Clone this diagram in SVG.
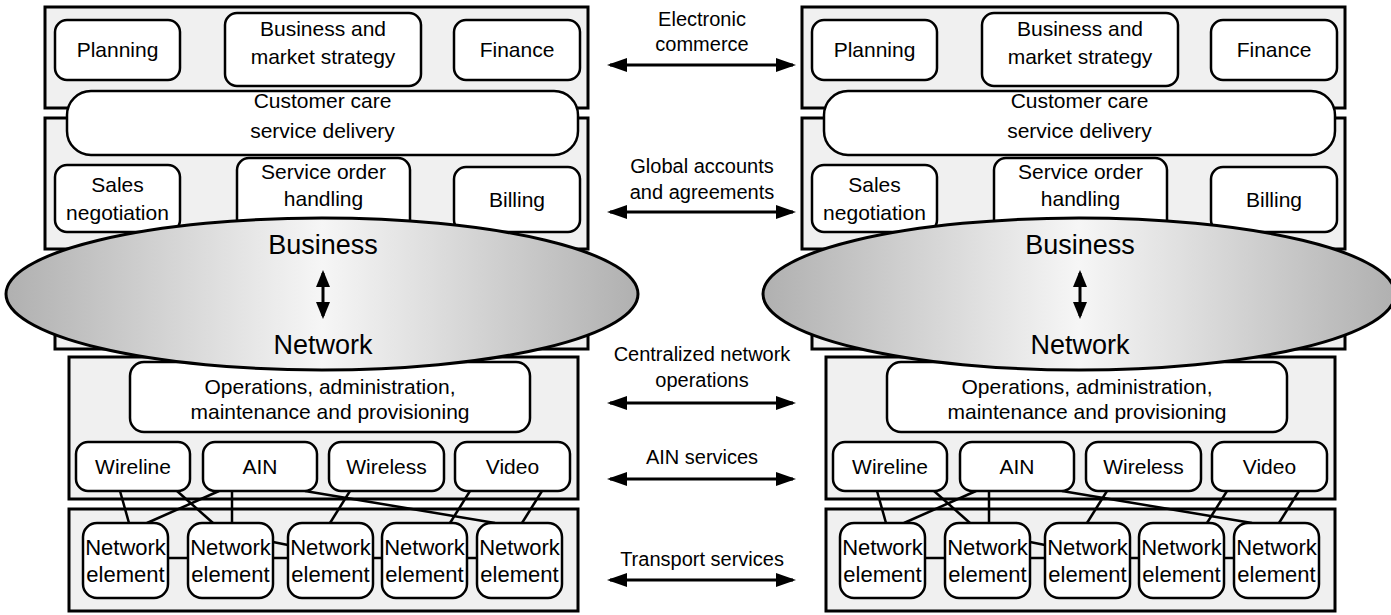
<svg xmlns="http://www.w3.org/2000/svg" width="1391" height="615" viewBox="0 0 1391 615">
<defs>
<linearGradient id="eg" x1="0" x2="1" y1="0" y2="0">
<stop offset="0" stop-color="#b0b0b0"/>
<stop offset="0.5" stop-color="#f6f6f6"/>
<stop offset="1" stop-color="#b0b0b0"/>
</linearGradient>
<marker id="ah" viewBox="0 0 20 14" refX="17" refY="7" markerWidth="20" markerHeight="14" markerUnits="userSpaceOnUse" orient="auto-start-reverse"><path d="M0,0 L20,7 L0,14 z" fill="#000"/></marker>
<marker id="ah2" viewBox="0 0 17 14" refX="14" refY="7" markerWidth="17" markerHeight="14" markerUnits="userSpaceOnUse" orient="auto-start-reverse"><path d="M0,0 L17,7 L0,14 z" fill="#000"/></marker>
<style>
.pn{fill:#f0f0f0;stroke:#000;stroke-width:3}
.bx{fill:#fff;stroke:#000;stroke-width:2.5}
.t{font-family:"Liberation Sans",Arial,sans-serif;font-size:21px;text-anchor:middle;fill:#000}
.ne{font-family:"Liberation Sans",Arial,sans-serif;font-size:22px;text-anchor:middle;fill:#000}
.big{font-family:"Liberation Sans",Arial,sans-serif;font-size:27px;text-anchor:middle;fill:#000}
.m{font-family:"Liberation Sans",Arial,sans-serif;font-size:20px;text-anchor:middle;fill:#000}
.cn{stroke:#000;stroke-width:2.5;fill:none}
.ar{stroke:#000;stroke-width:3;fill:none;marker-start:url(#ah);marker-end:url(#ah)}
.ar2{stroke:#000;stroke-width:3;fill:none;marker-start:url(#ah2);marker-end:url(#ah2)}
.el{fill:url(#eg);stroke:#000;stroke-width:3}
</style>
</defs>
<rect width="1391" height="615" fill="#fff"/>

<g id="left">
<g id="L-panel-business">
<rect class="pn" x="45" y="7" width="543" height="101"/>
<rect class="pn" x="45" y="118" width="543" height="131"/>
</g>
<g id="L-planning"><rect class="bx" x="55" y="20" width="125" height="60" rx="12"/><text class="t" x="117.5" y="57">Planning</text></g>
<g id="L-strategy"><rect class="bx" x="225" y="13" width="196" height="73" rx="12"/><text class="t" x="323" y="36">Business and</text><text class="t" x="323" y="64">market strategy</text></g>
<g id="L-finance"><rect class="bx" x="454" y="20" width="126" height="60" rx="12"/><text class="t" x="517" y="57">Finance</text></g>
<g id="L-customer"><rect class="bx" x="67" y="91" width="511" height="64" rx="24"/><text class="t" x="322.5" y="108">Customer care</text><text class="t" x="322.5" y="138">service delivery</text></g>
<g id="L-sales"><rect class="bx" x="55" y="165" width="125" height="67" rx="12"/><text class="t" x="117.5" y="192">Sales</text><text class="t" x="117.5" y="220">negotiation</text></g>
<g id="L-order"><rect class="bx" x="237" y="158" width="173" height="80" rx="12"/><text class="t" x="323.5" y="179">Service order</text><text class="t" x="323.5" y="206">handling</text></g>
<g id="L-billing"><rect class="bx" x="454" y="167" width="126" height="65" rx="12"/><text class="t" x="517" y="207">Billing</text></g>
<g id="L-panel-mid"><rect class="pn" x="55" y="258" width="533" height="91"/></g>
<g id="L-panel-network">
<rect class="pn" x="69" y="357" width="509" height="142"/>
<rect class="pn" x="69" y="509" width="509" height="102"/>
</g>
<g id="L-connectors">
<line class="cn" x1="120" y1="491" x2="129" y2="523"/>
<line class="cn" x1="177" y1="491" x2="213" y2="523"/>
<line class="cn" x1="219" y1="491" x2="147" y2="523"/>
<line class="cn" x1="232" y1="491" x2="232" y2="523"/>
<line class="cn" x1="305" y1="491" x2="495" y2="523"/>
<line class="cn" x1="350" y1="491" x2="330" y2="523"/>
<line class="cn" x1="470" y1="491" x2="450" y2="523"/>
<line class="cn" x1="542" y1="491" x2="522" y2="523"/>
<line class="cn" x1="168" y1="558" x2="188" y2="558"/>
<line class="cn" x1="273" y1="558" x2="288" y2="558"/>
<line class="cn" x1="273" y1="542" x2="288" y2="545"/>
<line class="cn" x1="373" y1="558" x2="382" y2="558"/>
<line class="cn" x1="467" y1="558" x2="477" y2="558"/>
</g>
<g id="L-oam"><rect class="bx" x="130" y="362" width="400" height="70" rx="14"/><text class="t" x="330" y="394">Operations, administration,</text><text class="t" x="330" y="419">maintenance and provisioning</text></g>
<g id="L-wireline"><rect class="bx" x="76" y="442" width="114" height="49" rx="12"/><text class="t" x="133" y="474">Wireline</text></g>
<g id="L-ain"><rect class="bx" x="203" y="442" width="114" height="49" rx="12"/><text class="t" x="260" y="474">AIN</text></g>
<g id="L-wireless"><rect class="bx" x="329" y="442" width="115" height="49" rx="12"/><text class="t" x="386.5" y="474">Wireless</text></g>
<g id="L-video"><rect class="bx" x="455" y="442" width="115" height="49" rx="12"/><text class="t" x="512.5" y="474">Video</text></g>
<g id="L-ne1"><rect class="bx" x="83" y="523" width="85" height="75" rx="14"/><text class="ne" x="125.5" y="555">Network</text><text class="ne" x="125.5" y="582">element</text></g>
<g id="L-ne2"><rect class="bx" x="188" y="523" width="85" height="75" rx="14"/><text class="ne" x="230.5" y="555">Network</text><text class="ne" x="230.5" y="582">element</text></g>
<g id="L-ne3"><rect class="bx" x="288" y="523" width="85" height="75" rx="14"/><text class="ne" x="330.5" y="555">Network</text><text class="ne" x="330.5" y="582">element</text></g>
<g id="L-ne4"><rect class="bx" x="382" y="523" width="85" height="75" rx="14"/><text class="ne" x="424.5" y="555">Network</text><text class="ne" x="424.5" y="582">element</text></g>
<g id="L-ne5"><rect class="bx" x="477" y="523" width="85" height="75" rx="14"/><text class="ne" x="519.5" y="555">Network</text><text class="ne" x="519.5" y="582">element</text></g>
<g id="L-ellipse"><ellipse class="el" cx="322" cy="294" rx="316" ry="76"/><text class="big" x="323" y="254">Business</text><line class="ar2" x1="323" y1="273" x2="323" y2="316"/><text class="big" x="323" y="354">Network</text></g>
</g>

<g id="right" transform="translate(757,0)">
<g id="R-panel-business">
<rect class="pn" x="45" y="7" width="543" height="101"/>
<rect class="pn" x="45" y="118" width="543" height="131"/>
</g>
<g id="R-planning"><rect class="bx" x="55" y="20" width="125" height="60" rx="12"/><text class="t" x="117.5" y="57">Planning</text></g>
<g id="R-strategy"><rect class="bx" x="225" y="13" width="196" height="73" rx="12"/><text class="t" x="323" y="36">Business and</text><text class="t" x="323" y="64">market strategy</text></g>
<g id="R-finance"><rect class="bx" x="454" y="20" width="126" height="60" rx="12"/><text class="t" x="517" y="57">Finance</text></g>
<g id="R-customer"><rect class="bx" x="67" y="91" width="511" height="64" rx="24"/><text class="t" x="322.5" y="108">Customer care</text><text class="t" x="322.5" y="138">service delivery</text></g>
<g id="R-sales"><rect class="bx" x="55" y="165" width="125" height="67" rx="12"/><text class="t" x="117.5" y="192">Sales</text><text class="t" x="117.5" y="220">negotiation</text></g>
<g id="R-order"><rect class="bx" x="237" y="158" width="173" height="80" rx="12"/><text class="t" x="323.5" y="179">Service order</text><text class="t" x="323.5" y="206">handling</text></g>
<g id="R-billing"><rect class="bx" x="454" y="167" width="126" height="65" rx="12"/><text class="t" x="517" y="207">Billing</text></g>
<g id="R-panel-mid"><rect class="pn" x="55" y="258" width="533" height="91"/></g>
<g id="R-panel-network">
<rect class="pn" x="69" y="357" width="509" height="142"/>
<rect class="pn" x="69" y="509" width="509" height="102"/>
</g>
<g id="R-connectors">
<line class="cn" x1="120" y1="491" x2="129" y2="523"/>
<line class="cn" x1="177" y1="491" x2="213" y2="523"/>
<line class="cn" x1="219" y1="491" x2="147" y2="523"/>
<line class="cn" x1="232" y1="491" x2="232" y2="523"/>
<line class="cn" x1="305" y1="491" x2="495" y2="523"/>
<line class="cn" x1="350" y1="491" x2="330" y2="523"/>
<line class="cn" x1="470" y1="491" x2="450" y2="523"/>
<line class="cn" x1="542" y1="491" x2="522" y2="523"/>
<line class="cn" x1="168" y1="558" x2="188" y2="558"/>
<line class="cn" x1="273" y1="558" x2="288" y2="558"/>
<line class="cn" x1="273" y1="542" x2="288" y2="545"/>
<line class="cn" x1="373" y1="558" x2="382" y2="558"/>
<line class="cn" x1="467" y1="558" x2="477" y2="558"/>
</g>
<g id="R-oam"><rect class="bx" x="130" y="362" width="400" height="70" rx="14"/><text class="t" x="330" y="394">Operations, administration,</text><text class="t" x="330" y="419">maintenance and provisioning</text></g>
<g id="R-wireline"><rect class="bx" x="76" y="442" width="114" height="49" rx="12"/><text class="t" x="133" y="474">Wireline</text></g>
<g id="R-ain"><rect class="bx" x="203" y="442" width="114" height="49" rx="12"/><text class="t" x="260" y="474">AIN</text></g>
<g id="R-wireless"><rect class="bx" x="329" y="442" width="115" height="49" rx="12"/><text class="t" x="386.5" y="474">Wireless</text></g>
<g id="R-video"><rect class="bx" x="455" y="442" width="115" height="49" rx="12"/><text class="t" x="512.5" y="474">Video</text></g>
<g id="R-ne1"><rect class="bx" x="83" y="523" width="85" height="75" rx="14"/><text class="ne" x="125.5" y="555">Network</text><text class="ne" x="125.5" y="582">element</text></g>
<g id="R-ne2"><rect class="bx" x="188" y="523" width="85" height="75" rx="14"/><text class="ne" x="230.5" y="555">Network</text><text class="ne" x="230.5" y="582">element</text></g>
<g id="R-ne3"><rect class="bx" x="288" y="523" width="85" height="75" rx="14"/><text class="ne" x="330.5" y="555">Network</text><text class="ne" x="330.5" y="582">element</text></g>
<g id="R-ne4"><rect class="bx" x="382" y="523" width="85" height="75" rx="14"/><text class="ne" x="424.5" y="555">Network</text><text class="ne" x="424.5" y="582">element</text></g>
<g id="R-ne5"><rect class="bx" x="477" y="523" width="85" height="75" rx="14"/><text class="ne" x="519.5" y="555">Network</text><text class="ne" x="519.5" y="582">element</text></g>
<g id="R-ellipse"><ellipse class="el" cx="322" cy="294" rx="316" ry="76"/><text class="big" x="323" y="254">Business</text><line class="ar2" x1="323" y1="273" x2="323" y2="316"/><text class="big" x="323" y="354">Network</text></g>
</g>

<g id="links">
<g id="link-ecommerce"><text class="m" x="702" y="26">Electronic</text><text class="m" x="702" y="51">commerce</text><line class="ar" x1="610" y1="65" x2="793" y2="65"/></g>
<g id="link-accounts"><text class="m" x="702" y="173">Global accounts</text><text class="m" x="702" y="199">and agreements</text><line class="ar" x1="610" y1="212" x2="793" y2="212"/></g>
<g id="link-operations"><text class="m" x="702" y="361">Centralized network</text><text class="m" x="702" y="387">operations</text><line class="ar" x1="610" y1="403" x2="793" y2="403"/></g>
<g id="link-ain"><text class="m" x="702" y="464">AIN services</text><line class="ar" x1="610" y1="479" x2="793" y2="479"/></g>
<g id="link-transport"><text class="m" x="702" y="566">Transport services</text><line class="ar" x1="610" y1="580" x2="793" y2="580"/></g>
</g>
</svg>
